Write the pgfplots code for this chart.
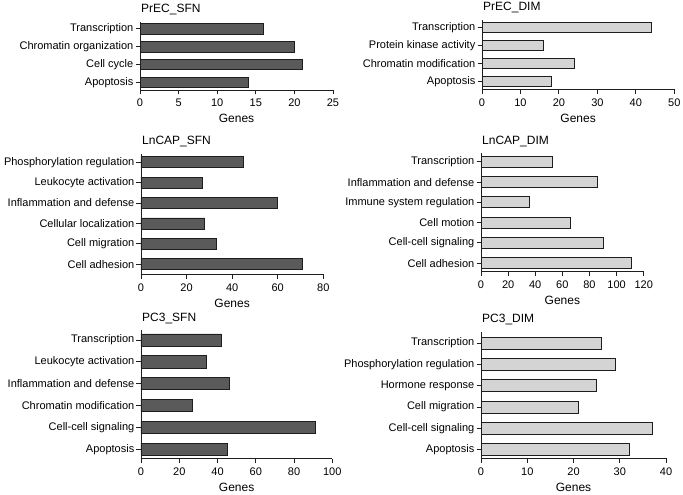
\documentclass[border=0pt]{standalone}
\usepackage{fontspec}
\setmainfont{Liberation Sans}
\usepackage{pgfplots}
\pgfplotsset{compat=1.18}
\definecolor{darkbar}{RGB}{90,90,90}
\definecolor{lightbar}{RGB}{212,212,212}
\definecolor{axline}{RGB}{30,30,30}

\pgfplotsset{
  panel/.style={
    scale only axis,
    anchor=south west,
    xbar,
    xmin=0,
    axis x line*=bottom,
    axis y line*=left,
    axis line style={axline, line width=0.9pt},
    tick align=outside,
    major tick length=4.5pt,
    tick style={axline, line width=0.9pt},
    /pgf/number format/assume math mode=true,
    tick label style={font=\fontsize{11}{13}\selectfont, inner sep=0pt},
    yticklabel style={anchor=east, xshift=-2pt},
    xticklabel style={anchor=north, yshift=-4.5pt},
    every axis title/.style={at={(0,1)}, anchor=base west, yshift=9pt, xshift=1pt,
      inner sep=0pt, font=\fontsize{12}{14}\selectfont},
    xlabel={Genes},
    every axis x label/.style={at={(axis description cs:0.5,0)}, anchor=base,
      yshift=-33pt, inner sep=0pt, font=\fontsize{12}{14}\selectfont},
  },
  sfn/.style={fill=darkbar, draw=axline, line width=0.8pt},
  dim/.style={fill=lightbar, draw=axline, line width=0.8pt},
}

\begin{document}
\begin{tikzpicture}
\path[use as bounding box] (0,0) rectangle (683pt,495pt);

% PrEC_SFN
\begin{axis}[panel, at={(140pt,405pt)}, width=193pt, height=68.3pt,
  title={PrEC\_SFN}, xmax=25, xtick={0,5,...,25},
  ymin=-0.42, ymax=3.39, bar width=0.59,
  ytick={0,1,2,3},
  yticklabels={Apoptosis, Cell cycle, Chromatin organization, {Transcription\ }}]
  \addplot[sfn] coordinates {(14,0) (21,1) (20,2) (16,3)};
\end{axis}

% PrEC_DIM
\begin{axis}[panel, at={(482pt,405.7pt)}, width=192.3pt, height=69.3pt,
  title={PrEC\_DIM}, xmax=50, xtick={0,10,...,50},
  ymin=-0.44, ymax=3.41, bar width=0.59,
  ytick={0,1,2,3},
  yticklabels={Apoptosis, Chromatin modification, Protein kinase activity, {Transcription\ }}]
  \addplot[dim] coordinates {(18,0) (24,1) (16,2) (44,3)};
\end{axis}

% LnCAP_SFN
\begin{axis}[panel, at={(141pt,220.7pt)}, width=182.3pt, height=120.3pt,
  title={LnCAP\_SFN}, xmax=80, xtick={0,20,...,80},
  ymin=-0.49, ymax=5.4, bar width=0.54,
  ytick={0,...,5},
  yticklabels={Cell adhesion, Cell migration, Cellular localization,
    {Inflammation and defense\ }, Leukocyte activation, Phosphorylation regulation}]
  \addplot[sfn] coordinates {(71,0) (33,1) (28,2) (60,3) (27,4) (45,5)};
\end{axis}

% LnCAP_DIM
\begin{axis}[panel, at={(481pt,223.3pt)}, width=162.7pt, height=118.4pt,
  title={LnCAP\_DIM}, xmax=120, xtick={0,20,...,120},
  ymin=-0.42, ymax=5.42, bar width=0.54,
  ytick={0,...,5},
  yticklabels={Cell adhesion, Cell-cell signaling, Cell motion,
    Immune system regulation, {Inflammation and defense\ }, Transcription}]
  \addplot[dim] coordinates {(111,0) (90,1) (66,2) (36,3) (86,4) (53,5)};
\end{axis}

% PC3_SFN
\begin{axis}[panel, at={(141pt,36.2pt)}, width=191.3pt, height=128.8pt,
  title={PC3\_SFN}, xmax=100, xtick={0,20,...,100},
  ymin=-0.44, ymax=5.46, bar width=0.56,
  ytick={0,...,5},
  yticklabels={Apoptosis, Cell-cell signaling, Chromatin modification,
    {Inflammation and defense\ }, Leukocyte activation, Transcription}]
  \addplot[sfn] coordinates {(45,0) (91,1) (27,2) (46,3) (34,4) (42,5)};
\end{axis}

% PC3_DIM
\begin{axis}[panel, at={(481pt,36.5pt)}, width=185pt, height=126.6pt,
  title={PC3\_DIM}, xmax=40, xtick={0,10,...,40},
  ymin=-0.41, ymax=5.52, bar width=0.56,
  ytick={0,...,5},
  yticklabels={Apoptosis, Cell-cell signaling, Cell migration,
    Hormone response, Phosphorylation regulation, Transcription}]
  \addplot[dim] coordinates {(32,0) (37,1) (21,2) (25,3) (29,4) (26,5)};
\end{axis}
\end{tikzpicture}
\end{document}
